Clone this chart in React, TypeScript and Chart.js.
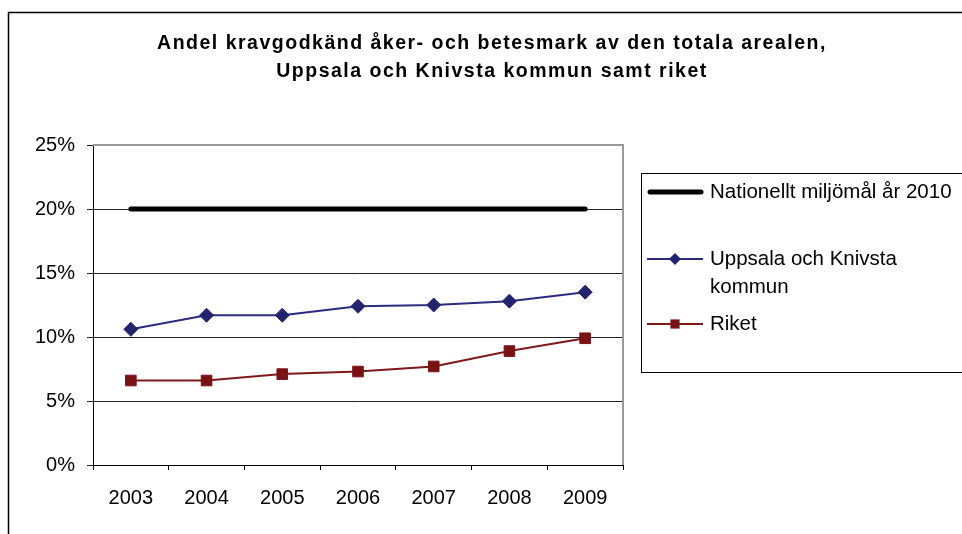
import React, { useEffect, useRef } from "react";
import { Chart, registerables } from "chart.js";

Chart.register(...registerables);

const titleLines = [
  "Andel kravgodkänd åker- och betesmark av den totala arealen,",
  "Uppsala och Knivsta kommun samt riket",
];
const years = ["2003", "2004", "2005", "2006", "2007", "2008", "2009"];
const nationalGoal = [20, 20, 20, 20, 20, 20, 20];
const uppsalaKnivsta = [10.6, 11.7, 11.7, 12.4, 12.5, 12.8, 13.5];
const riket = [6.6, 6.6, 7.1, 7.3, 7.7, 8.9, 9.9];
const seriesNames = ["Nationellt miljömål år 2010", "Uppsala och Knivsta kommun", "Riket"];
const legendLines = [["Nationellt miljömål år 2010"], ["Uppsala och Knivsta", "kommun"], ["Riket"]];
const yTicks = [0, 5, 10, 15, 20, 25];

const FONT = "'Liberation Sans', Arial, sans-serif";

function drawMarker(ctx: CanvasRenderingContext2D, style: string, r: number, x: number, y: number) {
  ctx.beginPath();
  if (style === "rectRot") {
    ctx.moveTo(x, y - r);
    ctx.lineTo(x + r, y);
    ctx.lineTo(x, y + r);
    ctx.lineTo(x - r, y);
    ctx.closePath();
  } else {
    const s = r * Math.SQRT1_2;
    ctx.rect(x - s, y - s, 2 * s, 2 * s);
  }
  ctx.fill();
}

const decorPlugin = {
  id: "decor",
  beforeDraw(chart: any) {
    const ctx = chart.ctx;
    ctx.save();
    ctx.fillStyle = "#ffffff";
    ctx.fillRect(0, 0, chart.width, chart.height);
    ctx.strokeStyle = "#000000";
    ctx.lineWidth = 1.5;
    ctx.strokeRect(8.5, 12.5, chart.width + 20, chart.height + 20);
    ctx.fillStyle = "#000000";
    ctx.font = `bold 19.5px ${FONT}`;
    ctx.textAlign = "center";
    ctx.textBaseline = "middle";
    try {
      (ctx as any).letterSpacing = "1.5px";
    } catch (e) {}
    ctx.fillText(titleLines[0], 492, 44);
    ctx.fillText(titleLines[1], 492, 72);
    ctx.restore();
  },
  afterDraw(chart: any) {
    const ctx = chart.ctx;
    const a = chart.chartArea;
    ctx.save();
    ctx.strokeStyle = "#999999";
    ctx.lineWidth = 2;
    ctx.beginPath();
    ctx.moveTo(a.left, a.top);
    ctx.lineTo(a.right, a.top);
    ctx.lineTo(a.right, a.bottom);
    ctx.stroke();
    const lx = 641.5, ly = 173.5, lw = 330, lh = 199;
    ctx.strokeStyle = "#000000";
    ctx.lineWidth = 1;
    ctx.strokeRect(lx, ly, lw, lh);
    const itemY = [[192], [259, 287], [324]];
    ctx.font = `20.5px ${FONT}`;
    ctx.textAlign = "left";
    ctx.textBaseline = "middle";
    chart.data.datasets.forEach((ds: any, i: number) => {
      const y = itemY[i][0];
      ctx.strokeStyle = ds.borderColor;
      ctx.lineWidth = ds.borderWidth;
      ctx.lineCap = i === 0 ? "round" : "butt";
      ctx.beginPath();
      ctx.moveTo(i === 0 ? 650 : 647, y);
      ctx.lineTo(i === 0 ? 701 : 703, y);
      ctx.stroke();
      if (ds.pointRadius > 0) {
        ctx.fillStyle = ds.pointBackgroundColor;
        drawMarker(ctx, ds.pointStyle, ds.pointRadius - 1, 675, y);
      }
      ctx.fillStyle = "#000000";
      legendLines[i].forEach((t, k) => ctx.fillText(t, 710, itemY[i][k]));
    });
    ctx.restore();
  },
};

export default function App() {
  const ref = useRef<HTMLCanvasElement>(null);
  useEffect(() => {
    if (!ref.current) return;
    const chart = new Chart(ref.current, {
      type: "line",
      data: {
        labels: years,
        datasets: [
          {
            label: seriesNames[0],
            data: nationalGoal,
            borderColor: "#000000",
            backgroundColor: "#000000",
            borderWidth: 5,
            pointRadius: 0,
            borderCapStyle: "round",
          },
          {
            label: seriesNames[1],
            data: uppsalaKnivsta,
            borderColor: "#2B2B7F",
            backgroundColor: "#24246E",
            pointBackgroundColor: "#24246E",
            pointBorderColor: "#24246E",
            borderWidth: 2,
            pointStyle: "rectRot",
            pointRadius: 7,
            pointBorderWidth: 1,
          },
          {
            label: seriesNames[2],
            data: riket,
            borderColor: "#80181A",
            backgroundColor: "#7A1214",
            pointBackgroundColor: "#7A1214",
            pointBorderColor: "#7A1214",
            borderWidth: 2,
            pointStyle: "rect",
            pointRadius: 7.5,
            pointBorderWidth: 1,
          },
        ],
      },
      options: {
        responsive: false,
        animation: false,
        devicePixelRatio: 1,
        layout: { padding: { top: 145, right: 339, left: 0, bottom: 0 } },
        plugins: {
          legend: { display: false },
          title: { display: false },
          tooltip: { enabled: false },
        },
        scales: {
          x: {
            offset: true,
            grid: {
              offset: true,
              drawOnChartArea: false,
              drawTicks: true,
              tickLength: 5,
              color: "#000000",
            },
            border: { color: "#000000", width: 1 },
            ticks: { color: "#000000", font: { family: FONT, size: 20 }, padding: 16, maxRotation: 0, autoSkip: false },
            afterFit: (axis: any) => {
              axis.height = 534 - 465;
            },
          },
          y: {
            min: 0,
            max: 25,
            afterBuildTicks: (axis: any) => {
              axis.ticks = yTicks.map((v) => ({ value: v }));
            },
            grid: { color: "#222222", tickLength: 6, lineWidth: 1 },
            border: { color: "#000000", width: 1 },
            ticks: {
              color: "#000000",
              font: { family: FONT, size: 20 },
              padding: 12,
              callback: (v: any) => `${v}%`,
            },
            afterFit: (axis: any) => {
              axis.width = 93;
            },
          },
        },
      },
      plugins: [decorPlugin],
    });
    return () => chart.destroy();
  }, []);
  return (
    <div style={{ position: "absolute", left: 0, top: 0, width: 962, height: 534 }}>
      <canvas ref={ref} width={962} height={534} style={{ width: 962, height: 534, display: "block" }} />
    </div>
  );
}
